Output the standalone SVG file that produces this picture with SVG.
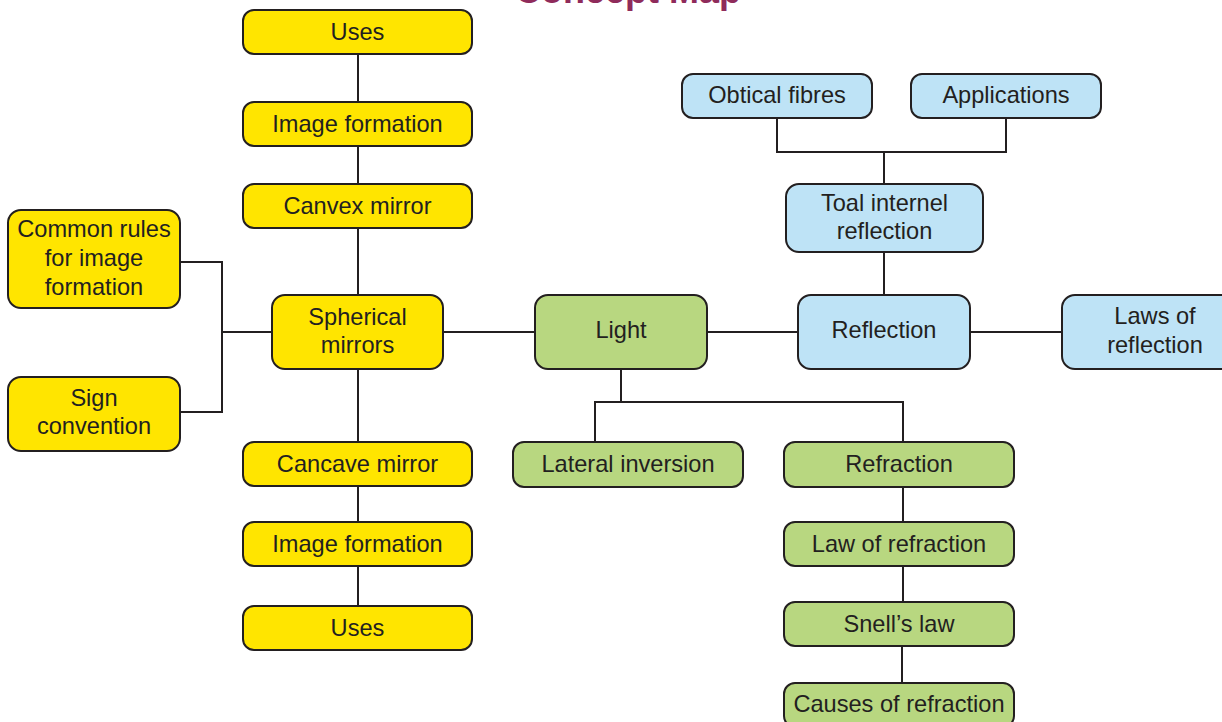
<svg xmlns="http://www.w3.org/2000/svg" width="1222" height="722" viewBox="0 0 1222 722">
<style>
.n rect{stroke:#231f20;stroke-width:2}
.y rect{fill:#ffe500}
.g rect{fill:#b8d780}
.b rect{fill:#bee3f6}
text{font-family:"Liberation Sans",Arial,sans-serif;font-size:23.6px;fill:#231f20;text-anchor:middle}
#connectors path{fill:none;stroke:#231f20;stroke-width:2}
.title{font-weight:bold;font-size:36px;fill:#8f2b5b}
</style>
<rect width="1222" height="722" fill="#ffffff"/>
<text class="title" x="628" y="3">Concept Map</text>
<g id="connectors">
<path d="M358 54V102M358 146V184M358 228V295M358 369V442M358 486V522M358 566V606"/>
<path d="M180 262H222V412H180M222 332H272"/>
<path d="M443 332H535M707 332H798M970 332H1062"/>
<path d="M621 369V402M595 442V402H903V442M903 487V522M903 566V602M902 646V683"/>
<path d="M884 252V295M884 184V152M777 118V152H1006V118"/>
</g>
<g id="uses1" class="n y"><rect x="243" y="10" width="229" height="44" rx="11"/><text x="357.5" y="40">Uses</text></g>
<g id="imgform1" class="n y"><rect x="243" y="102" width="229" height="44" rx="11"/><text x="357.5" y="132">Image formation</text></g>
<g id="convex" class="n y"><rect x="243" y="184" width="229" height="44" rx="11"/><text x="357.5" y="214">Canvex mirror</text></g>
<g id="spherical" class="n y"><rect x="272" y="295" width="171" height="74" rx="13"/><text x="357.5" y="325">Spherical</text><text x="357.5" y="353">mirrors</text></g>
<g id="common" class="n y"><rect x="8" y="210" width="172" height="98" rx="13"/><text x="94" y="237">Common rules</text><text x="94" y="266">for image</text><text x="94" y="295">formation</text></g>
<g id="sign" class="n y"><rect x="8" y="377" width="172" height="74" rx="13"/><text x="94" y="406">Sign</text><text x="94" y="434">convention</text></g>
<g id="concave" class="n y"><rect x="243" y="442" width="229" height="44" rx="11"/><text x="357.5" y="472">Cancave mirror</text></g>
<g id="imgform2" class="n y"><rect x="243" y="522" width="229" height="44" rx="11"/><text x="357.5" y="552">Image formation</text></g>
<g id="uses2" class="n y"><rect x="243" y="606" width="229" height="44" rx="11"/><text x="357.5" y="636">Uses</text></g>
<g id="light" class="n g"><rect x="535" y="295" width="172" height="74" rx="13"/><text x="621" y="338">Light</text></g>
<g id="lateral" class="n g"><rect x="513" y="442" width="230" height="45" rx="11"/><text x="628" y="472">Lateral inversion</text></g>
<g id="refraction" class="n g"><rect x="784" y="442" width="230" height="45" rx="11"/><text x="899" y="472">Refraction</text></g>
<g id="lawrefr" class="n g"><rect x="784" y="522" width="230" height="44" rx="11"/><text x="899" y="552">Law of refraction</text></g>
<g id="snell" class="n g"><rect x="784" y="602" width="230" height="44" rx="11"/><text x="899" y="632">Snell’s law</text></g>
<g id="causes" class="n g"><rect x="784" y="683" width="230" height="44" rx="11"/><text x="899" y="712">Causes of refraction</text></g>
<g id="reflection" class="n b"><rect x="798" y="295" width="172" height="74" rx="13"/><text x="884" y="338">Reflection</text></g>
<g id="laws" class="n b"><rect x="1062" y="295" width="172" height="74" rx="13"/><text x="1155" y="324">Laws of</text><text x="1155" y="353">reflection</text></g>
<g id="tir" class="n b"><rect x="786" y="184" width="197" height="68" rx="13"/><text x="884.5" y="211">Toal internel</text><text x="884.5" y="239">reflection</text></g>
<g id="fibres" class="n b"><rect x="682" y="74" width="190" height="44" rx="11"/><text x="777" y="103">Obtical fibres</text></g>
<g id="applications" class="n b"><rect x="911" y="74" width="190" height="44" rx="11"/><text x="1006" y="103">Applications</text></g>
</svg>
